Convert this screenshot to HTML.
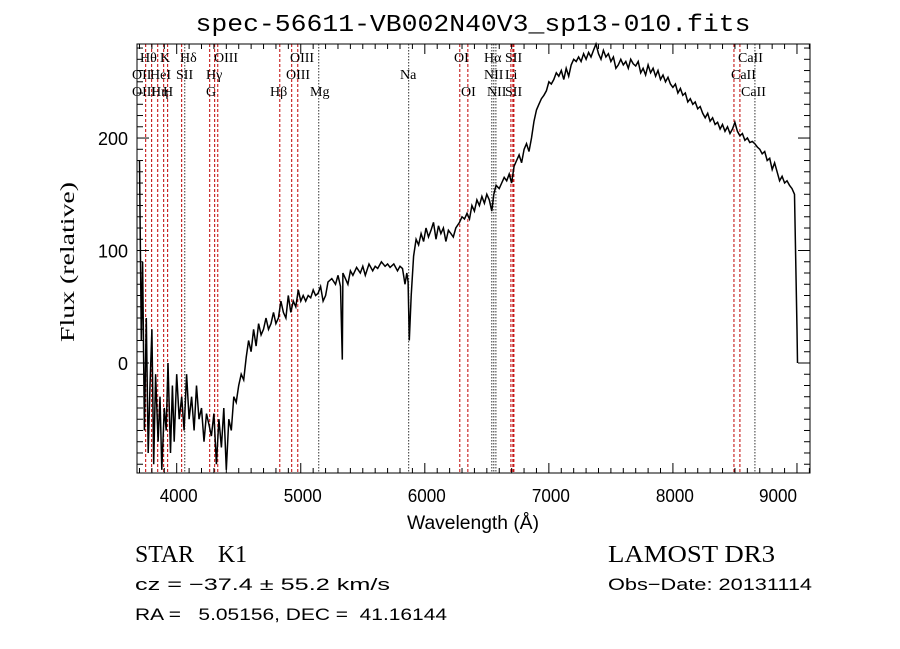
<!DOCTYPE html>
<html><head><meta charset="utf-8"><style>
html,body{margin:0;padding:0;background:#fff;width:900px;height:649px;overflow:hidden}
svg text{font-family:"Liberation Sans",sans-serif;fill:#000;white-space:pre}
.serif{font-family:"Liberation Serif",serif}
</style></head><body>
<svg id="chart" width="900" height="649" viewBox="0 0 900 649" xmlns="http://www.w3.org/2000/svg" xml:space="preserve">
<text x="473" y="31" font-size="24" text-anchor="middle" textLength="555" lengthAdjust="spacingAndGlyphs" style="font-family:'Liberation Mono',monospace">spec-56611-VB002N40V3_sp13-010.fits</text>
<g id="lines"></g>
<g id="labels"></g>
<path id="spec" fill="none" stroke="#000" stroke-width="1.5"/>
<g id="axes"></g>
<text x="473" y="529" font-size="19" text-anchor="middle" textLength="132" lengthAdjust="spacingAndGlyphs">Wavelength (Å)</text>
<text transform="translate(74,262) rotate(-90)" font-size="20" text-anchor="middle" textLength="160" lengthAdjust="spacingAndGlyphs" class="serif">Flux (relative)</text>
<text x="135" y="562" font-size="24" textLength="112" lengthAdjust="spacingAndGlyphs" class="serif">STAR    K1</text>
<text x="608" y="562" font-size="24" textLength="167" lengthAdjust="spacingAndGlyphs" class="serif">LAMOST DR3</text>
<text x="135" y="590" font-size="17" textLength="255" lengthAdjust="spacingAndGlyphs">cz = −37.4 ± 55.2 km/s</text>
<text x="608" y="590" font-size="17" textLength="204" lengthAdjust="spacingAndGlyphs">Obs−Date: 20131114</text>
<text x="135" y="620" font-size="17" textLength="312" lengthAdjust="spacingAndGlyphs">RA =   5.05156, DEC =  41.16144</text>
</svg>
<script>
const waves=[3700,3715,3725,3740,3755,3770,3785,3800,3815,3830,3850,3865,3880,3900,3915,3930,3950,3965,3980,4000,4020,4040,4060,4080,4100,4120,4140,4160,4180,4200,4220,4240,4260,4280,4300,4320,4340,4360,4380,4400,4420,4440,4460,4480,4500,4520,4540,4560,4580,4600,4620,4640,4660,4680,4700,4720,4740,4760,4780,4800,4820,4840,4860,4880,4900,4920,4940,4960,4980,5000,5020,5040,5060,5080,5100,5120,5140,5160,5180,5200,5220,5250,5280,5300,5320,5335,5340,5360,5380,5400,5420,5450,5480,5500,5520,5550,5580,5600,5620,5650,5680,5700,5720,5750,5780,5800,5820,5840,5855,5865,5875,5890,5910,5930,5950,5970,5990,6010,6030,6050,6070,6090,6110,6130,6150,6170,6190,6210,6230,6250,6280,6300,6320,6340,6360,6380,6400,6420,6440,6460,6480,6500,6520,6540,6556,6575,6600,6620,6640,6660,6680,6700,6720,6740,6760,6780,6800,6820,6840,6860,6880,6900,6920,6940,6960,6980,7000,7020,7040,7060,7080,7100,7120,7140,7160,7180,7200,7220,7240,7260,7280,7300,7320,7340,7360,7380,7400,7420,7440,7460,7480,7500,7520,7540,7560,7580,7600,7620,7640,7660,7680,7700,7720,7740,7760,7780,7800,7820,7840,7860,7880,7900,7920,7940,7960,7980,8000,8020,8040,8060,8080,8100,8120,8140,8160,8180,8200,8220,8240,8260,8280,8300,8320,8340,8360,8380,8400,8420,8440,8460,8480,8500,8520,8540,8560,8580,8600,8620,8640,8660,8680,8700,8720,8740,8760,8780,8800,8820,8840,8860,8880,8900,8920,8940,8960,8980,9000,9004,9008];
const flux=[180,20,90,-60,40,-80,-20,30,-90,-10,-70,-30,-95,-40,-60,0,-80,-20,-70,-10,-50,-30,-60,-10,-50,-30,-60,-20,-50,-40,-70,-45,-55,-65,-45,-90,-50,-75,-40,-95,-50,-60,-30,-35,-20,-10,-15,5,20,10,30,15,35,25,30,40,30,35,45,35,40,55,45,40,60,45,55,50,65,55,60,55,60,58,65,60,62,68,55,60,72,75,70,78,68,3,80,75,70,82,78,85,80,86,78,88,82,86,84,90,86,88,85,88,82,86,84,70,80,72,20,60,95,110,105,115,108,120,112,118,125,110,122,115,120,108,118,115,112,120,125,130,128,133,128,140,135,145,140,148,142,150,145,135,150,158,155,160,165,162,168,160,175,180,185,178,190,195,188,200,215,225,230,235,238,242,250,248,252,258,255,260,252,262,255,265,270,268,272,268,275,270,276,272,278,284,275,270,278,272,275,268,272,262,265,270,265,268,262,270,266,264,268,258,262,256,265,258,262,255,260,252,256,250,254,248,245,248,240,244,238,240,232,235,230,232,226,228,222,218,222,215,218,212,214,208,212,206,210,204,208,214,206,202,204,198,200,196,197,195,192,190,186,188,180,182,172,178,170,162,166,160,162,158,155,150,30,0];
const lineWaves=[3750,3798,3847,3895,3927,4040,4065,4266,4306,4331,4831,4927,4976,5145,5870,6282,6347,6540,6556,6573,6694,6710,6718,8492,8540,8661];
const lineTypes=["e","e","e","e","e","e","a","e","e","e","e","e","e","a","a","e","e","a","a","a","e","e","e","e","e","a"];
const labelText=["Hθ","K","Hδ","OIII","OIII","OI","Hα","SII","CaII","OII","HeI","SII","Hγ","OIII","Na","NII","Li","CaII","OIII","Hη","H","G","Hβ","Mg","OI","NII","SII","CaII"];
const labelX=[140,160,180,214,290,454,484,505,738,132,150,176,206,286,400,484,505,731,132,151,163,206,270,310,461,487,505,741];
const labelRow=[0,0,0,0,0,0,0,0,0,1,1,1,1,1,1,1,1,1,2,2,2,2,2,2,2,2,2,2];
const xTicks=[4000,5000,6000,7000,8000,9000];
const yTicks=[0,100,200];

const X0=137,X1=810,Y0=44,Y1=473;
const wMin=3680,wMax=9105,fMin=-97.8,fMax=283.6;
const sx=w=>X0+(w-wMin)/(wMax-wMin)*(X1-X0);
const sy=f=>Y1-(f-fMin)/(fMax-fMin)*(Y1-Y0);
const NS="http://www.w3.org/2000/svg";
function mk(tag,attrs,parent){const e=document.createElementNS(NS,tag);for(const k in attrs)e.setAttribute(k,attrs[k]);parent.appendChild(e);return e;}

const gl=document.getElementById('lines');
lineWaves.forEach((w,i)=>{
  const l=mk('line',{x1:sx(w),x2:sx(w),y1:Y0,y2:Y1,stroke:lineTypes[i]==="e"?"#c00000":"#333","stroke-width":1,"stroke-dasharray":lineTypes[i]==="e"?"3,2":"1.5,1.5"},gl);
  
  
});
const glab=document.getElementById('labels');
labelText.forEach((t,i)=>{
  const e=mk('text',{x:labelX[i],y:62+labelRow[i]*17,"font-size":14,class:"serif"},glab);
  e.textContent=t;
  
  
});

let d="";
waves.forEach((w,i)=>{d+=(i?"L":"M")+sx(w).toFixed(1)+","+Math.max(Y0,Math.min(Y1,sy(flux[i]))).toFixed(1);});
document.getElementById('spec').setAttribute('d',d);

const ga=document.getElementById('axes');
const frame=mk('rect',{x:X0,y:Y0,width:X1-X0,height:Y1-Y0,fill:"none",stroke:"#000","stroke-width":1},ga);


for(let w=3700;w<=9100;w+=100){
  const L=(w%1000===0)?10:5;
  mk('line',{x1:sx(w),x2:sx(w),y1:Y1,y2:Y1-L,stroke:"#000"},ga);
  mk('line',{x1:sx(w),x2:sx(w),y1:Y0,y2:Y0+L,stroke:"#000"},ga);
}
for(let f=-90;f<=280;f+=10){
  const L=(f%100===0)?12:6;
  mk('line',{x1:X0,x2:X0+L,y1:sy(f),y2:sy(f),stroke:"#000"},ga);
  mk('line',{x1:X1,x2:X1-L,y1:sy(f),y2:sy(f),stroke:"#000"},ga);
}
xTicks.forEach((w,i)=>{
  const cx=(i===xTicks.length-1)?sx(w)-19:sx(w)+2;
  const t=mk('text',{x:cx,y:502,"font-size":18,"text-anchor":"middle",textLength:38,lengthAdjust:"spacingAndGlyphs"},ga);
  t.textContent=String(w);
  
  
});
yTicks.forEach(f=>{
  const t=mk('text',{x:128,y:sy(f)+7,"font-size":18,"text-anchor":"end"},ga);
  t.textContent=String(f);
  
  
});
</script>
</body></html>
